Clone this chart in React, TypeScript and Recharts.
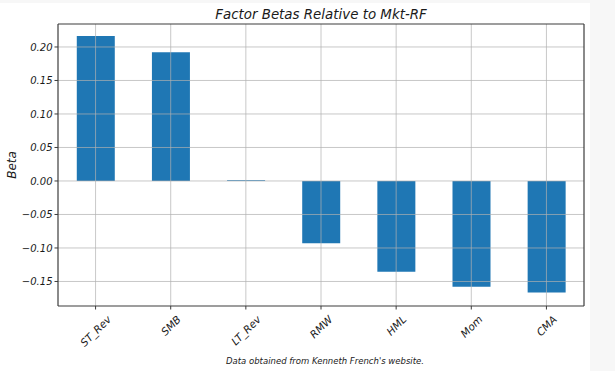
import { BarChart, Bar, XAxis, YAxis, ReferenceLine } from 'recharts';

const factors = ['ST_Rev', 'SMB', 'LT_Rev', 'RMW', 'HML', 'Mom', 'CMA'];
const betas = [0.2164, 0.1922, 0.0012, -0.093, -0.1354, -0.1578, -0.1665];
const yTicks = [-0.15, -0.1, -0.05, 0, 0.05, 0.1, 0.15, 0.2];

const data = factors.map((f, i) => ({ factor: f, beta: betas[i] }));

const FONT = '"DejaVu Sans", sans-serif';
const AXIS = '#3c3c3c';
const GRID = '#b0b0b0';
const TEXT = '#1a1a1a';

let ctx: CanvasRenderingContext2D | null = null;
function textWidth(s: string, size: number) {
  if (!ctx) ctx = document.createElement('canvas').getContext('2d');
  if (!ctx) return s.length * size * 0.6;
  ctx.font = `italic ${size}px "DejaVu Sans"`;
  return ctx.measureText(s).width;
}

// matplotlib-style 45° labels: rotated bbox centred under the tick
function SlantTick(props: any) {
  const { x, y, payload } = props;
  const w = textWidth(payload.value, 10.5);
  const side = (w + 12) / Math.SQRT2;
  const cy = y + 1.5 + side / 2;
  return (
    <text
      x={x}
      y={cy}
      textAnchor="middle"
      dominantBaseline="central"
      transform={`rotate(-45 ${x} ${cy})`}
      fontFamily={FONT}
      fontStyle="italic"
      fontSize={10.5}
      fill={TEXT}
    >
      {payload.value}
    </text>
  );
}

const fmt = (v: number) => v.toFixed(2).replace('-', '\u2212');

export default function App() {
  return (
    <div style={{ position: 'absolute', left: 0, top: 0, width: 615, height: 371, background: '#f7f7f7' }}>
      <div style={{ position: 'absolute', left: 0, top: 3, width: 590, height: 368, background: '#fff' }} />
      <div
        style={{
          position: 'absolute',
          left: 0,
          width: 642,
          top: 6,
          textAlign: 'center',
          fontFamily: FONT,
          fontStyle: 'italic',
          fontSize: 13.4,
          color: TEXT,
          lineHeight: '18px',
        }}
      >
        Factor Betas Relative to Mkt-RF
      </div>
      <div
        style={{
          position: 'absolute',
          left: 0,
          width: 650,
          top: 356,
          textAlign: 'center',
          fontFamily: FONT,
          fontStyle: 'italic',
          fontSize: 8.5,
          color: TEXT,
          lineHeight: '11px',
        }}
      >
        Data obtained from Kenneth French's website.
      </div>
      <div style={{ position: 'absolute', left: 0, top: 0 }}>
        <BarChart
          width={615}
          height={371}
          data={data}
          margin={{ top: 23, right: 30, bottom: 0, left: 0 }}
          barCategoryGap="25%"
        >
          <XAxis
            dataKey="factor"
            height={65}
            interval={0}
            tick={<SlantTick />}
            tickSize={3.5}
            tickLine={{ stroke: AXIS }}
            axisLine={{ stroke: AXIS, strokeWidth: 1.2 }}
          />
          <XAxis
            xAxisId="top"
            orientation="top"
            dataKey="factor"
            height={1}
            tick={false}
            tickLine={false}
            axisLine={{ stroke: AXIS, strokeWidth: 1.2 }}
          />
          <YAxis
            width={58}
            domain={[-0.1866, 0.2343]}
            ticks={yTicks}
            tickFormatter={fmt}
            tickSize={3.5}
            tickLine={{ stroke: AXIS }}
            axisLine={{ stroke: AXIS, strokeWidth: 1.2 }}
            tick={{ fontFamily: FONT, fontStyle: 'italic', fontSize: 10, fill: TEXT }}
            label={{
              content: (p: any) => {
                const vb = p.viewBox;
                const cy = vb.y + vb.height / 2;
                return (
                  <text
                    x={12}
                    y={cy}
                    textAnchor="middle"
                    dominantBaseline="central"
                    transform={`rotate(-90 12 ${cy})`}
                    fontFamily={FONT}
                    fontStyle="italic"
                    fontSize={12}
                    fill={TEXT}
                  >
                    Beta
                  </text>
                );
              },
            }}
          />
          <YAxis
            yAxisId="right"
            orientation="right"
            width={1}
            domain={[-0.1866, 0.2343]}
            tick={false}
            tickLine={false}
            axisLine={{ stroke: AXIS, strokeWidth: 1.2 }}
          />
          <Bar dataKey="beta" fill="#1f77b4" isAnimationActive={false} />
          {yTicks.map((t) => (
            <ReferenceLine key={'h' + t} y={t} stroke={GRID} strokeOpacity={0.7} strokeWidth={1} />
          ))}
          {factors.map((f) => (
            <ReferenceLine key={'v' + f} x={f} stroke={GRID} strokeOpacity={0.7} strokeWidth={1} />
          ))}
        </BarChart>
      </div>
    </div>
  );
}
